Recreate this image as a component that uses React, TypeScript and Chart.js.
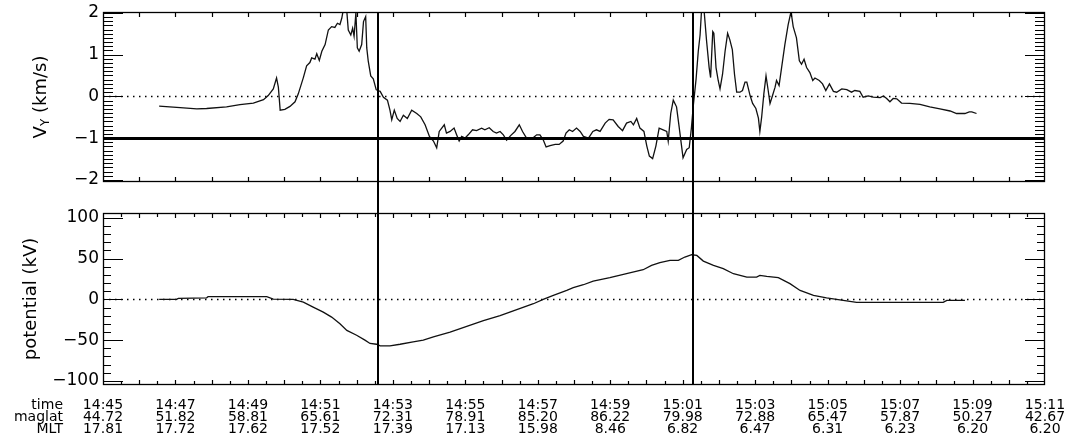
import React, { useEffect, useRef } from 'react';
import { Chart, registerables } from 'chart.js';

Chart.register(...registerables);

// ---------------- data ----------------
// minutes after 14:45
const X_MIN = 0;
const X_MAX = 26;
const LABEL_MINUTES = [0, 2, 4, 6, 8, 10, 12, 14, 16, 18, 20, 22, 24, 26];
const TIME_LABELS = ['14:45', '14:47', '14:49', '14:51', '14:53', '14:55', '14:57', '14:59', '15:01', '15:03', '15:05', '15:07', '15:09', '15:11'];
const MAGLAT_LABELS = ['44.72', '51.82', '58.81', '65.61', '72.31', '78.91', '85.20', '86.22', '79.98', '72.88', '65.47', '57.87', '50.27', '42.67'];
const MLT_LABELS = ['17.81', '17.72', '17.62', '17.52', '17.39', '17.13', '15.98', '8.46', '6.82', '6.47', '6.31', '6.23', '6.20', '6.20'];
const ROW_TITLES = ['time', 'maglat', 'MLT'];

const VY_TICKS = [-2, -1, 0, 1, 2];
const POT_TICKS = [-100, -50, 0, 50, 100];
const VY_RANGE = [-2.05, 2.02];
const POT_RANGE = [-105, 106];
const VY_REF_LINE = -1;
const MARK_TIMES = [7.59, 16.28];

const VY_T = [
  1.55, 2.13, 2.59, 2.86, 3.41, 3.78, 4.15, 4.43, 4.56, 4.70, 4.79, 4.84, 4.89, 5.02, 5.16, 5.30, 5.39, 5.53, 5.62, 5.71,
  5.76, 5.85, 5.90, 5.97, 6.04, 6.13, 6.22, 6.31, 6.40, 6.47, 6.54, 6.59, 6.63, 6.73, 6.77, 6.84, 6.89, 6.93, 6.98, 7.02,
  7.07, 7.14, 7.19, 7.25, 7.28, 7.32, 7.39, 7.46, 7.54, 7.58, 7.65, 7.74, 7.85, 7.92, 7.97, 8.04, 8.12, 8.20, 8.29, 8.40,
  8.52, 8.66, 8.77, 8.89, 9.01, 9.12, 9.21, 9.28, 9.42, 9.48, 9.58, 9.69, 9.76, 9.83, 9.90, 9.99, 10.08, 10.20, 10.31, 10.45,
  10.54, 10.66, 10.77, 10.86, 10.96, 11.05, 11.14, 11.25, 11.37, 11.49, 11.58, 11.69, 11.83, 11.97, 12.06, 12.15, 12.23, 12.34, 12.48, 12.59,
  12.70, 12.78, 12.87, 12.96, 13.07, 13.17, 13.26, 13.40, 13.52, 13.62, 13.72, 13.86, 13.97, 14.08, 14.22, 14.34, 14.45, 14.57, 14.64, 14.73,
  14.82, 14.93, 15.01, 15.08, 15.17, 15.26, 15.35, 15.46, 15.56, 15.60, 15.67, 15.74, 15.83, 15.90, 16.01, 16.11, 16.18, 16.24, 16.29, 16.37,
  16.43, 16.48, 16.52, 16.59, 16.66, 16.73, 16.77, 16.83, 16.86, 16.92, 16.98, 17.03, 17.10, 17.17, 17.24, 17.30, 17.37, 17.43, 17.49, 17.58,
  17.65, 17.72, 17.77, 17.86, 17.93, 18.02, 18.09, 18.13, 18.18, 18.24, 18.30, 18.36, 18.41, 18.48, 18.55, 18.59, 18.66, 18.73, 18.82, 18.91,
  18.99, 19.05, 19.09, 19.14, 19.22, 19.28, 19.35, 19.42, 19.51, 19.59, 19.65, 19.77, 19.86, 19.95, 20.05, 20.16, 20.25, 20.39, 20.53, 20.66,
  20.75, 20.89, 20.98, 21.12, 21.26, 21.45, 21.54, 21.63, 21.72, 21.81, 21.91, 22.04, 22.27, 22.55, 22.82, 23.10, 23.38, 23.56, 23.79, 23.91,
  23.98, 24.11,
];
const VY_V = [
  -0.235, -0.27, -0.30, -0.29, -0.25, -0.20, -0.16, -0.08, 0.02, 0.18, 0.44, 0.22, -0.33, -0.31, -0.24, -0.13, 0.06, 0.45, 0.73, 0.81,
  0.92, 0.89, 1.02, 0.86, 1.08, 1.24, 1.59, 1.67, 1.65, 1.75, 1.72, 1.87, 2.06, 2.03, 1.59, 1.47, 1.63, 1.44, 2.0, 1.16,
  1.08, 1.24, 1.79, 1.91, 1.16, 0.85, 0.49, 0.42, 0.16, 0.14, 0.12, -0.02, -0.09, -0.33, -0.56, -0.33, -0.53, -0.60, -0.45, -0.53,
  -0.33, -0.41, -0.49, -0.68, -0.96, -1.07, -1.23, -0.84, -0.68, -0.88, -0.84, -0.76, -0.92, -1.07, -0.96, -1.0, -0.92, -0.80, -0.82, -0.76,
  -0.80, -0.75, -0.84, -0.88, -0.84, -0.92, -1.05, -0.94, -0.84, -0.68, -0.84, -1.0, -1.02, -0.92, -0.92, -1.04, -1.21, -1.18, -1.15, -1.15,
  -1.07, -0.88, -0.80, -0.84, -0.76, -0.84, -0.96, -1.0, -0.84, -0.80, -0.84, -0.64, -0.55, -0.56, -0.72, -0.82, -0.64, -0.60, -0.68, -0.53,
  -0.76, -0.84, -1.19, -1.43, -1.49, -1.19, -0.76, -0.80, -0.84, -1.07, -0.41, -0.09, -0.25, -0.72, -1.47, -1.27, -1.23, -0.76, -0.25, 0.42,
  1.08, 1.47, 2.06, 2.06, 1.32, 0.69, 0.45, 1.55, 1.51, 0.69, 0.38, 0.18, 0.53, 1.08, 1.51, 1.36, 1.12, 0.53, 0.10, 0.10,
  0.14, 0.34, 0.34, 0.02, -0.17, -0.29, -0.52, -0.84, -0.49, 0.06, 0.49, 0.14, -0.17, 0.02, 0.22, 0.38, 0.26, 0.69, 1.24, 1.71,
  2.03, 1.67, 1.55, 1.40, 0.85, 0.77, 0.89, 0.69, 0.57, 0.38, 0.44, 0.38, 0.30, 0.14, 0.30, 0.12, 0.10, 0.18, 0.16, 0.10,
  0.14, 0.12, -0.02, 0.01, -0.02, -0.03, 0.01, -0.05, -0.13, -0.05, -0.06, -0.16, -0.17, -0.19, -0.25, -0.30, -0.35, -0.41, -0.41, -0.37,
  -0.37, -0.41,
];

const POT_T = [
  1.55, 2.03, 2.08, 2.86, 2.90, 4.52, 4.70, 5.25, 5.53, 5.80, 6.08, 6.31, 6.54, 6.73, 7.00, 7.23, 7.37, 7.55, 7.65, 7.92,
  8.20, 8.56, 8.84, 9.12, 9.58, 10.04, 10.50, 10.96, 11.42, 11.88, 12.15, 12.43, 12.80, 12.98, 13.26, 13.53, 13.99, 14.45, 14.91, 15.14,
  15.37, 15.65, 15.88, 16.06, 16.25, 16.39, 16.57, 16.85, 17.12, 17.40, 17.77, 18.04, 18.13, 18.32, 18.64, 18.96, 19.24, 19.61, 19.97, 20.43,
  20.80, 23.19, 23.29, 23.79,
];
const POT_V = [
  0, 0, 1.2, 2, 3.3, 3.3, 0.4, 0, -3.3, -9.4, -15.6, -21.7, -29.8, -38, -44, -50, -54, -55, -57, -57,
  -55, -52, -50, -46, -40, -33, -26, -20, -12.6, -5.3, 0, 5, 11, 14.4, 18, 22.5, 26.6, 31.5, 36.4, 41.7,
  45, 47.9, 47.9, 52, 54.8, 54, 47, 41.7, 37.7, 31.5, 27.4, 27.4, 29.4, 28.2, 26.6, 19.3, 11, 4.9, 2, -1.2,
  -3.7, -3.7, -1.2, -1.2,
];

// ---------------- layout / style ----------------
const W = 1069;
const H = 441;
const AXIS_W = 103;
const RIGHT_PAD = 24;
const P1_TOP = 12;
const P1_BOTTOM = 182;
const P2_TOP = 213;
const P2_BOTTOM = 385;
const FONT = '"DejaVu Sans", sans-serif';
const XLAB_SIZE = 14;
const XLAB_LH = 12 / 14;
const XLAB_GAP = 14;

const fmtNum = (v: number) => String(v).replace('-', '\u2212');

type PanelCfg = {
  yMinor: number;
  yMajorEvery: number;
  yMinorLen: number;
  xStep: number;
  xMajorEvery: number;
  title: (ctx: CanvasRenderingContext2D, x: number, y: number) => void;
  titleX: number;
  extra?: (chart: any) => void;
  rows?: boolean;
};

function panelPlugin(id: string, cfg: PanelCfg) {
  return {
    id,
    beforeDatasetsDraw(chart: any) {
      const { ctx, chartArea: a } = chart;
      const ys = chart.scales.y;
      const y0 = Math.round(ys.getPixelForValue(0)) + 0.5;
      ctx.save();
      ctx.strokeStyle = '#000';
      ctx.lineWidth = 1.4;
      ctx.setLineDash([1.5, 4.5]);
      ctx.beginPath();
      ctx.moveTo(a.left, y0);
      ctx.lineTo(a.right, y0);
      ctx.stroke();
      ctx.restore();
    },
    afterDraw(chart: any) {
      const { ctx, chartArea: a } = chart;
      const xs = chart.scales.x;
      const ys = chart.scales.y;
      ctx.save();
      ctx.strokeStyle = '#000';
      ctx.lineWidth = 1.3;
      ctx.strokeRect(a.left + 0.5, a.top + 0.5, a.right - a.left - 1, a.bottom - a.top - 1);
      // y ticks (inward, both sides)
      const n0 = Math.ceil(ys.min / cfg.yMinor - 1e-6);
      const n1 = Math.floor(ys.max / cfg.yMinor + 1e-6);
      ctx.lineWidth = 1.2;
      ctx.beginPath();
      for (let n = n0; n <= n1; n++) {
        const v = n * cfg.yMinor;
        const y = Math.round(ys.getPixelForValue(v)) + 0.5;
        const len = n % cfg.yMajorEvery === 0 ? 20 : cfg.yMinorLen;
        ctx.moveTo(a.left, y);
        ctx.lineTo(a.left + len, y);
        ctx.moveTo(a.right, y);
        ctx.lineTo(a.right - len, y);
      }
      ctx.stroke();
      // x ticks (inward, top and bottom)
      const m1 = Math.round((xs.max - xs.min) / cfg.xStep);
      ctx.beginPath();
      for (let m = 1; m < m1; m++) {
        const v = xs.min + m * cfg.xStep;
        const x = Math.round(xs.getPixelForValue(v)) + 0.5;
        const len = m % cfg.xMajorEvery === 0 ? 5 : 4;
        ctx.moveTo(x, a.top);
        ctx.lineTo(x, a.top + len);
        ctx.moveTo(x, a.bottom);
        ctx.lineTo(x, a.bottom - len);
      }
      ctx.stroke();
      // title
      cfg.title(ctx, cfg.titleX, (a.top + a.bottom) / 2);
      // row titles below x axis
      if (cfg.rows) {
        const lh = XLAB_SIZE * XLAB_LH;
        ctx.fillStyle = '#000';
        ctx.font = `${XLAB_SIZE}px ${FONT}`;
        ctx.textAlign = 'right';
        ctx.textBaseline = 'middle';
        ROW_TITLES.forEach((t, i) => {
          ctx.fillText(t, 63, xs.top + XLAB_GAP + lh * (i + 0.5));
        });
      }
      if (cfg.extra) cfg.extra(chart);
      ctx.restore();
    },
  };
}

function drawVyTitle(ctx: CanvasRenderingContext2D, x: number, y: number) {
  ctx.save();
  ctx.translate(x, y);
  ctx.rotate(-Math.PI / 2);
  ctx.fillStyle = '#000';
  ctx.textBaseline = 'middle';
  ctx.textAlign = 'left';
  const big = `18px ${FONT}`;
  const small = `12px ${FONT}`;
  ctx.font = big;
  const w1 = ctx.measureText('V').width;
  const w3 = ctx.measureText(' (km/s)').width;
  ctx.font = small;
  const w2 = ctx.measureText('Y').width;
  let sx = -(w1 + w2 + w3) / 2;
  ctx.font = big;
  ctx.fillText('V', sx, 0);
  sx += w1;
  ctx.font = small;
  ctx.fillText('Y', sx, 5);
  sx += w2;
  ctx.font = big;
  ctx.fillText(' (km/s)', sx, 0);
  ctx.restore();
}

function drawPotTitle(ctx: CanvasRenderingContext2D, x: number, y: number) {
  ctx.save();
  ctx.translate(x, y);
  ctx.rotate(-Math.PI / 2);
  ctx.fillStyle = '#000';
  ctx.textBaseline = 'middle';
  ctx.textAlign = 'center';
  ctx.font = `18px ${FONT}`;
  ctx.fillText('potential (kV)', 0, 0);
  ctx.restore();
}

// invisible tick marks used only as spacing between axis and labels
const hiddenGrid = (len: number) => ({
  display: true,
  drawOnChartArea: false,
  drawTicks: true,
  tickLength: len,
  color: 'rgba(0,0,0,0)',
});

function yAxis(range: number[], ticks: number[]) {
  return {
    type: 'linear' as const,
    min: range[0],
    max: range[1],
    afterBuildTicks: (s: any) => {
      s.ticks = ticks.map((v) => ({ value: v }));
    },
    afterFit: (s: any) => {
      s.width = AXIS_W;
    },
    ticks: {
      padding: 0,
      color: '#000',
      font: { family: FONT, size: 17 },
      callback: (v: any) => fmtNum(Number(v)),
    },
    grid: hiddenGrid(4),
    border: { display: false },
  };
}

export default function App() {
  const topRef = useRef<HTMLCanvasElement>(null);
  const botRef = useRef<HTMLCanvasElement>(null);

  useEffect(() => {
    const lineStyle = {
      borderColor: '#111',
      borderWidth: 1.3,
      pointRadius: 0,
      tension: 0,
      fill: false,
    };

    const bottom = new Chart(botRef.current as HTMLCanvasElement, {
      type: 'line',
      data: {
        datasets: [
          { ...lineStyle, data: POT_T.map((t, i) => ({ x: t, y: POT_V[i] })) },
        ],
      },
      options: {
        animation: false,
        responsive: false,
        devicePixelRatio: 1,
        events: [],
        layout: { padding: { left: 0, right: RIGHT_PAD, top: P2_TOP, bottom: 0 } },
        plugins: { legend: { display: false }, tooltip: { enabled: false } },
        scales: {
          x: {
            type: 'linear',
            min: X_MIN,
            max: X_MAX,
            afterBuildTicks: (s: any) => {
              s.ticks = LABEL_MINUTES.map((v) => ({ value: v }));
            },
            afterFit: (s: any) => {
              s.height = H - P2_BOTTOM;
            },
            ticks: {
              autoSkip: false,
              maxRotation: 0,
              minRotation: 0,
              padding: 0,
              color: '#000',
              font: { family: FONT, size: XLAB_SIZE, lineHeight: XLAB_LH },
              callback: (v: any) => {
                const i = LABEL_MINUTES.indexOf(Number(v));
                return [TIME_LABELS[i], MAGLAT_LABELS[i], MLT_LABELS[i]];
              },
            },
            grid: hiddenGrid(XLAB_GAP),
            border: { display: false },
          },
          y: yAxis(POT_RANGE, POT_TICKS),
        },
      },
      plugins: [
        panelPlugin('potPanel', {
          yMinor: 10,
          yMajorEvery: 5,
          yMinorLen: 8,
          xStep: 0.5,
          xMajorEvery: 2,
          title: drawPotTitle,
          titleX: 31,
          rows: true,
        }),
      ],
    } as any);

    const top = new Chart(topRef.current as HTMLCanvasElement, {
      type: 'line',
      data: {
        datasets: [
          { ...lineStyle, data: VY_T.map((t, i) => ({ x: t, y: VY_V[i] })) },
        ],
      },
      options: {
        animation: false,
        responsive: false,
        devicePixelRatio: 1,
        events: [],
        layout: { padding: { left: 0, right: RIGHT_PAD, top: P1_TOP, bottom: H - P1_BOTTOM } },
        plugins: { legend: { display: false }, tooltip: { enabled: false } },
        scales: {
          x: { type: 'linear', min: X_MIN, max: X_MAX, display: false },
          y: yAxis(VY_RANGE, VY_TICKS),
        },
      },
      plugins: [
        panelPlugin('vyPanel', {
          yMinor: 0.1,
          yMajorEvery: 10,
          yMinorLen: 10,
          xStep: 1,
          xMajorEvery: 1,
          title: drawVyTitle,
          titleX: 41,
          extra: (chart: any) => {
            const { ctx, chartArea: a } = chart;
            const xs = chart.scales.x;
            const ys = chart.scales.y;
            ctx.strokeStyle = '#000';
            ctx.lineWidth = 3;
            const yr = Math.round(ys.getPixelForValue(VY_REF_LINE)) + 0.5;
            ctx.beginPath();
            ctx.moveTo(a.left, yr);
            ctx.lineTo(a.right, yr);
            ctx.stroke();
            ctx.lineWidth = 2;
            ctx.beginPath();
            MARK_TIMES.forEach((t) => {
              const x = Math.round(xs.getPixelForValue(t));
              ctx.moveTo(x, a.top);
              ctx.lineTo(x, P2_BOTTOM);
            });
            ctx.stroke();
          },
        }),
      ],
    } as any);

    return () => {
      top.destroy();
      bottom.destroy();
    };
  }, []);

  const cs: React.CSSProperties = { position: 'absolute', left: 0, top: 0, width: W, height: H };
  return (
    <div style={{ position: 'fixed', left: 0, top: 0, width: W, height: H, background: '#fff' }}>
      <canvas ref={botRef} width={W} height={H} style={cs} />
      <canvas ref={topRef} width={W} height={H} style={cs} />
    </div>
  );
}
